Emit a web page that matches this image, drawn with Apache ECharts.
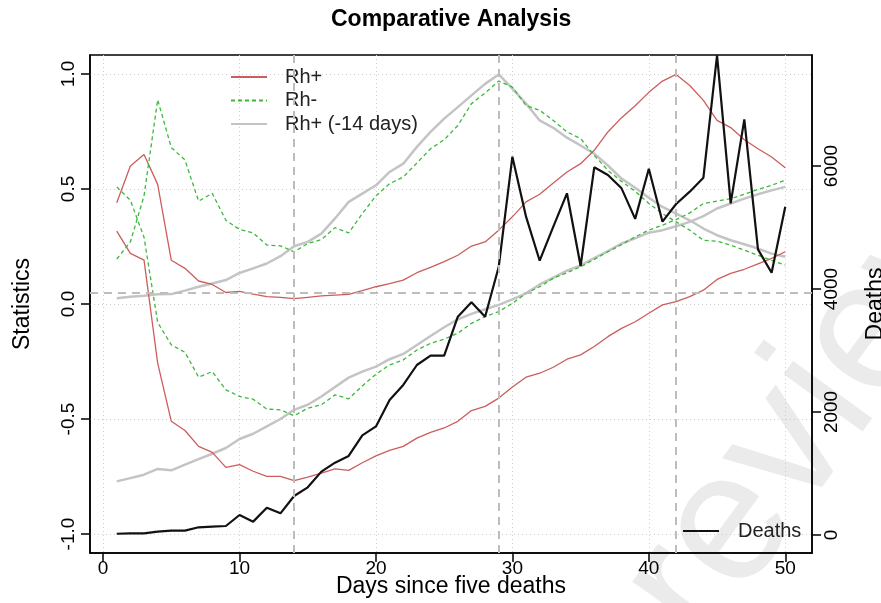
<!DOCTYPE html>
<html><head><meta charset="utf-8">
<script src="https://cdn.jsdelivr.net/npm/echarts@6/dist/echarts.min.js"></script>
<style>html,body{margin:0;padding:0;background:#fff}#c{width:881px;height:603px}</style>
</head><body><div id="c"></div>
<script>
const days = [1,2,3,4,5,6,7,8,9,10,11,12,13,14,15,16,17,18,19,20,21,22,23,24,25,26,27,28,29,30,31,32,33,34,35,36,37,38,39,40,41,42,43,44,45,46,47,48,49,50];
const rhPosUpper = [0.44,0.60,0.65,0.52,0.19,0.155,0.10,0.085,0.05,0.055,0.043,0.032,0.029,0.023,0.029,0.035,0.039,0.042,0.058,0.075,0.089,0.104,0.136,0.159,0.184,0.212,0.252,0.27,0.321,0.379,0.444,0.477,0.526,0.574,0.61,0.668,0.748,0.81,0.862,0.92,0.969,0.998,0.95,0.885,0.798,0.767,0.714,0.675,0.639,0.592];
const rhPosLower = [0.317,0.22,0.191,-0.257,-0.51,-0.55,-0.619,-0.645,-0.71,-0.698,-0.727,-0.749,-0.749,-0.768,-0.753,-0.735,-0.717,-0.723,-0.69,-0.66,-0.636,-0.619,-0.583,-0.558,-0.539,-0.51,-0.463,-0.445,-0.409,-0.361,-0.318,-0.301,-0.275,-0.24,-0.221,-0.185,-0.142,-0.106,-0.077,-0.04,-0.004,0.01,0.032,0.06,0.107,0.133,0.151,0.174,0.198,0.227];
const rhNegA = [0.195,0.27,0.47,0.888,0.68,0.626,0.447,0.481,0.364,0.324,0.309,0.256,0.253,0.227,0.263,0.28,0.332,0.309,0.393,0.47,0.523,0.552,0.613,0.675,0.714,0.776,0.871,0.917,0.969,0.943,0.863,0.842,0.798,0.748,0.719,0.646,0.581,0.533,0.49,0.437,0.393,0.357,0.321,0.277,0.273,0.256,0.234,0.212,0.19,0.169];
const rhNegB = [0.509,0.451,0.29,-0.08,-0.178,-0.21,-0.318,-0.294,-0.373,-0.402,-0.414,-0.457,-0.46,-0.486,-0.453,-0.438,-0.395,-0.412,-0.356,-0.305,-0.265,-0.243,-0.2,-0.171,-0.153,-0.127,-0.084,-0.055,-0.033,0.003,0.046,0.075,0.112,0.136,0.162,0.194,0.227,0.258,0.292,0.321,0.343,0.367,0.396,0.437,0.447,0.458,0.477,0.498,0.516,0.538];
const rhLagA = [0.025,0.032,0.036,0.042,0.043,0.058,0.075,0.089,0.104,0.135,0.155,0.176,0.208,0.251,0.27,0.306,0.372,0.444,0.48,0.516,0.574,0.61,0.683,0.748,0.806,0.856,0.907,0.957,0.998,0.936,0.871,0.798,0.766,0.723,0.689,0.653,0.602,0.545,0.505,0.462,0.422,0.393,0.364,0.328,0.299,0.277,0.26,0.241,0.219,0.205];
const rhLagB = [-0.771,-0.757,-0.742,-0.717,-0.723,-0.698,-0.674,-0.651,-0.626,-0.587,-0.564,-0.532,-0.5,-0.46,-0.438,-0.402,-0.361,-0.32,-0.294,-0.272,-0.24,-0.217,-0.178,-0.139,-0.101,-0.067,-0.043,-0.023,-0.004,0.02,0.046,0.085,0.115,0.145,0.168,0.2,0.23,0.263,0.285,0.31,0.321,0.338,0.357,0.382,0.415,0.437,0.458,0.477,0.494,0.509];
const deaths = [20,25,27,54,70,70,125,136,146,325,217,444,352,634,775,1030,1176,1285,1620,1765,2195,2439,2764,2916,2916,3550,3783,3550,4363,6151,5176,4460,5013,5556,4374,5979,5854,5637,5140,5954,5095,5382,5583,5810,7800,5393,6759,4645,4265,5338];
const xTicks = [0,10,20,30,40,50];
const statTicks = [-1,-0.5,0,0.5,1];
const statTickLabels = ['-1.0','-0.5','0.0','0.5','1.0'];
const deathTicks = [0,2000,4000,6000];
const refDays = [14,29,42];
const refLevel = 0.05;

const FONT = '"Liberation Sans", Arial, Helvetica, sans-serif';
const pair = v => days.map((d,i)=>[d, v[i]]);
const RED = '#cd5c5c', GREEN = '#3cb83c', GRAY = '#c4c4c4';

const chart = echarts.init(document.getElementById('c'));
chart.setOption({
  animation:false,
  backgroundColor:'#fff',
  textStyle:{fontFamily:FONT},
  title:{text:'Comparative Analysis', left:331, top:8, padding:0,
    textStyle:{fontFamily:FONT, fontSize:23, fontWeight:'bold', color:'#000'}},
  graphic:[{type:'text', x:588, y:565, rotation:54*Math.PI/180, z:-10, silent:true,
    style:{text:'review', font:'185px '+FONT, fill:'#ebebeb', verticalAlign:'top', align:'left'}}],
  grid:{left:90, right:69, top:55, bottom:50, show:true, borderColor:'#000', borderWidth:1.5,
    backgroundColor:'transparent', containLabel:false, outerBoundsMode:'none'},
  legend:[
    {data:['Rh+','Rh-','Rh+ (-14 days)'], orient:'vertical', left:230, top:67, padding:0, itemGap:3.5,
     itemWidth:36, itemHeight:14, itemStyle:{opacity:0, borderWidth:0},
     textStyle:{fontFamily:FONT, fontSize:20, color:'#222', padding:[0,0,0,13]}},
    {data:['Deaths'], orient:'vertical', left:682, top:521, padding:0, itemWidth:36, itemHeight:14,
     itemStyle:{opacity:0, borderWidth:0},
     textStyle:{fontFamily:FONT, fontSize:20, color:'#222', padding:[0,0,0,14]}}
  ],
  xAxis:{type:'value', min:-0.96, max:51.96,
    name:'Days since five deaths', nameLocation:'middle', nameGap:22, nameMoveOverlap:false,
    nameTextStyle:{fontFamily:FONT, fontSize:23, color:'#000'},
    axisLine:{show:true, onZero:false, lineStyle:{color:'#000', width:1.5}},
    axisTick:{show:true, length:9, customValues:xTicks, lineStyle:{color:'#000', width:1.5}},
    axisLabel:{customValues:xTicks, fontFamily:FONT, fontSize:19, color:'#000', margin:6},
    splitLine:{show:true, lineStyle:{color:'#cfcfcf', type:[1,3], width:1}}},
  yAxis:[
    {type:'value', min:-1.0824, max:1.0824, position:'left',
     name:'Statistics', nameLocation:'middle', nameGap:56, nameRotate:90, nameMoveOverlap:false,
     nameTextStyle:{fontFamily:FONT, fontSize:23, color:'#000'},
     axisLine:{show:true, onZero:false, lineStyle:{color:'#000', width:1.5}},
     axisTick:{show:true, length:9, customValues:statTicks, lineStyle:{color:'#000', width:1.5}},
     axisLabel:{customValues:statTicks, rotate:90, margin:12, fontFamily:FONT, fontSize:19, color:'#000',
       formatter:v=>{const i=statTicks.indexOf(+(+v).toFixed(2)); return i>=0?statTickLabels[i]:'';}},
     splitLine:{show:true, lineStyle:{color:'#cfcfcf', type:[1,3], width:1}}},
    {type:'value', min:-293, max:7805, position:'right',
     name:'Deaths', nameLocation:'middle', nameGap:52, nameRotate:90, nameMoveOverlap:false,
     nameTextStyle:{fontFamily:FONT, fontSize:23, color:'#000'},
     axisLine:{show:true, onZero:false, lineStyle:{color:'#000', width:1.5}},
     axisTick:{show:true, length:9, customValues:deathTicks, lineStyle:{color:'#000', width:1.5}},
     axisLabel:{customValues:deathTicks, rotate:90, margin:10, fontFamily:FONT, fontSize:19, color:'#000',
       formatter:v=>String(Math.round(v))},
     splitLine:{show:false}}
  ],
  series:[
    {name:'Rh+ (-14 days)', type:'line', data:pair(rhLagA), symbol:'none', lineStyle:{color:GRAY, width:2.5}, itemStyle:{color:GRAY}, z:2,
     markLine:{silent:true, symbol:'none', label:{show:false},
       lineStyle:{color:'#bdbdbd', type:[8,6], width:2},
       data:refDays.map(d=>({xAxis:d})).concat([{yAxis:refLevel}])}},
    {name:'Rh+ (-14 days)', type:'line', data:pair(rhLagB), symbol:'none', lineStyle:{color:GRAY, width:2.5}, itemStyle:{color:GRAY}, z:2},
    {name:'Rh+', type:'line', data:pair(rhPosUpper), symbol:'none', lineStyle:{color:RED, width:1.3}, itemStyle:{color:RED}, z:3},
    {name:'Rh+', type:'line', data:pair(rhPosLower), symbol:'none', lineStyle:{color:RED, width:1.3}, itemStyle:{color:RED}, z:3},
    {name:'Rh-', type:'line', data:pair(rhNegA), symbol:'none', lineStyle:{color:GREEN, width:1.3, type:[4,3]}, itemStyle:{color:GREEN}, z:3},
    {name:'Rh-', type:'line', data:pair(rhNegB), symbol:'none', lineStyle:{color:GREEN, width:1.3, type:[4,3]}, itemStyle:{color:GREEN}, z:3},
    {name:'Deaths', type:'line', yAxisIndex:1, data:pair(deaths), symbol:'none', lineStyle:{color:'#111', width:2.2}, itemStyle:{color:'#111'}, z:4}
  ]
});
</script></body></html>
